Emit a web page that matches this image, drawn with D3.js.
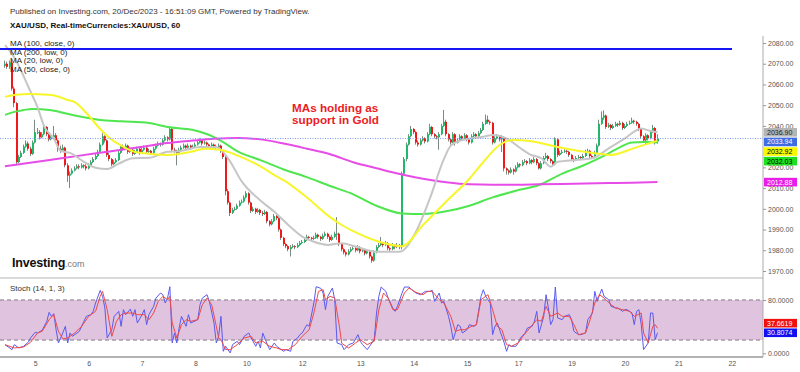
<!DOCTYPE html>
<html><head><meta charset="utf-8">
<script src="https://cdn.jsdelivr.net/npm/d3@7"></script>
<style>body{margin:0;background:#fff;}svg{display:block;font-family:"Liberation Sans",Arial,sans-serif;}</style>
</head><body><svg id="c" width="800" height="372"></svg>
<script>
// ---------------- DATA ----------------
const headerLine = "Published on Investing.com, 20/Dec/2023 - 16:51:09 GMT, Powered by TradingView.";
const titleLine = "XAU/USD, Real-timeCurrencies:XAU/USD, 60";
const legendLabels = ["MA (100, close, 0)", "MA (200, low, 0)", "MA (20, low, 0)", "MA (50, close, 0)"];
const noteLines = ["MAs holding as", "support in Gold"];
const stochTitle = "Stoch (14, 1, 3)";

const firstOpen = 2069;
const closes = [
2070,2068.5,2070.5,2058,2051,2022.5,2025,2027,2030,2031.5,
2029,2026.5,2032,2037,2037,2034.5,2036,2039.5,2036,2033.5,
2034.5,2035.5,2033,2029,2028,2029.5,2021,2016,2017,2018.5,
2019.5,2020.5,2020,2021,2020.5,2019.5,2021,2022.5,2024,2025.5,
2027.5,2031,2035,2033,2026,2024,2021.5,2022.5,2023.5,2027,
2030,2029,2030.5,2027.5,2028.5,2026.5,2027.5,2029,2027,2028.5,
2029.5,2027.5,2028,2027,2029,2030.5,2031.5,2031,2033,2034.5,
2033.5,2038.5,2028.5,2028,2027,2028.5,2029.5,2030.5,2029.5,2030.5,
2029.5,2030,2031,2032,2033,2031.5,2032,2031,2030,2031,
2030,2029.5,2030.5,2028,2025,2008.5,2003,1998,1999.5,2000,
2001.5,2003,2003.5,2005.5,2007.5,2003,1999,2000,1998.5,1999.5,
1998,1997.5,1998.5,1994,1992.5,1994,1996.5,1995.5,1990,1986,
1983,1982,1980.5,1981.5,1982,1981.5,1982.5,1983.5,1984,1985,
1986.5,1986,1985.5,1986,1987.5,1986.5,1985.5,1987,1988,1986.5,
1985,1986.5,1988,1988,1983,1980.5,1979,1978,1979.5,1980.5,
1981,1980,1981.5,1979.5,1980,1978.5,1979.5,1977,1975,1979,
1981.5,1982.5,1983.5,1982.5,1983.5,1981,1980.5,1982.5,1981.5,1982.5,
1981.5,2017,2024,2031,2035,2038.5,2037,2032,2031,2033,
2034,2032.5,2036,2039.5,2036,2035,2034.5,2036,2040,2042,
2036,2033.5,2032,2036,2032,2033,2035,2034,2035.5,2033.5,
2032,2035,2036,2035,2036.5,2038,2041,2043,2042,2041.5,
2032,2034,2035,2033.5,2034.5,2019.5,2018.5,2017.5,2019,2018,
2020,2021.5,2021,2022.5,2023,2022,2023.5,2022.5,2024,2022,
2019.5,2022,2024.5,2025.5,2024,2023,2021.5,2033.5,2026,2027,
2027.5,2028,2027.5,2026,2024,2023.5,2024.5,2025,2024.5,2025.5,
2027.5,2028,2025.5,2025,2027,2030.5,2041,2044,2045,2039.5,
2040.5,2039,2040,2041,2040.5,2041.5,2039,2040,2041,2041.5,
2042.5,2042,2041,2038.5,2035,2033,2035.5,2034,2037,2039,
2032.5,2033.94];
const highs = [
2071.5,2071,2071.5,2072,2059,2051.5,2026,2028,2031,2033,
2032.5,2030,2033,2043,2039,2038,2037,2041,2040,2037,
2035.5,2040,2036.5,2033.5,2030.5,2031,2030,2022,2018,2019.5,
2020.5,2021.5,2021.5,2022,2021.5,2021.5,2022,2023.5,2025,2026.5,
2028.5,2032,2036.5,2035.5,2033.5,2027,2024.5,2023.5,2024.5,2028,
2031,2031,2031.5,2031,2029.5,2029,2028.5,2030,2029.5,2029.5,
2030.5,2030,2029,2028.5,2030,2031.5,2032.5,2032,2034,2035.5,
2035,2039.5,2039,2029.5,2028.5,2029.5,2030.5,2031.5,2031,2031.5,
2031,2031,2032,2033,2034,2033.5,2033,2032.5,2031.5,2032,
2031.5,2031,2031.5,2031,2028.5,2025.5,2009.5,2003.5,2000.5,2001,
2002.5,2004,2004.5,2006.5,2008.5,2008,2003.5,2001,2000.5,2000.5,
2000,1999,1999.5,1999,1994.5,1995,1997.5,1997,1996,1990.5,
1986.5,1983.5,1982.5,1982.5,1983,1982.5,1983.5,1984.5,1985,1986,
1987.5,1987,1986.5,1987,1988.5,1988,1987,1988,1989,1988.5,
1987,1987.5,1989,1996,1988.5,1983.5,1981,1979.5,1980.5,1981.5,
1982,1981.5,1982.5,1982,1981,1980.5,1980.5,1980,1977.5,1980,
1982.5,1983.5,1986.4,1984,1984.5,1984,1981.5,1983.5,1983,1983.5,
1983,2018,2025,2032,2036,2040,2039,2037.5,2033,2034,
2035,2034.5,2037,2041,2040,2036.5,2035.5,2037,2041,2047.7,
2043,2036.5,2034,2037,2036.5,2034,2036,2035.5,2036.5,2036,
2034,2036,2037,2036.5,2037.5,2039,2042,2045.5,2045,2042.5,
2042,2035,2036,2035.5,2035.5,2035,2020,2019,2020,2019.5,
2021,2022.5,2022,2023.5,2024,2023.5,2024.5,2024,2025,2024.5,
2022.5,2023,2025.5,2027,2026,2024.5,2023.5,2034.5,2034,2028,
2028.5,2029,2028.5,2028,2026.5,2024.5,2025.5,2026,2025.5,2026.5,
2028.5,2029,2028.5,2026,2028,2031.5,2043,2047,2047.5,2045.5,
2041.5,2041,2041,2042,2041.5,2042.5,2042,2041,2042,2042.5,
2044,2043,2042.5,2041.5,2039,2035.5,2036.5,2036,2038,2040.5,
2039.5,2036];
const lows = [
2068,2067.5,2067.5,2057,2049,2021,2022,2024.5,2026.5,2029.5,
2028,2025.5,2026,2031.5,2036,2033.5,2034,2035.5,2035,2032.5,
2033,2034,2032,2027.5,2027,2027.5,2020,2013,2010,2016.5,
2018,2019,2019,2019.5,2019.5,2018.5,2019,2020.5,2022,2023.5,
2025,2027,2030.5,2032,2025,2023,2020.5,2021,2022,2023,
2026.5,2028,2028.5,2026.5,2027,2025.5,2026,2027,2026,2026.5,
2028,2026.5,2027,2026,2026.5,2028.5,2030,2030,2030.5,2032.5,
2032.5,2033,2027.5,2027,2021,2026.5,2028,2029,2028.5,2029,
2028.5,2029,2029.5,2030.5,2031.5,2030.5,2031,2030,2029,2029.5,
2029,2028.5,2029,2027,2024,2006.5,2002,1996.5,1997.5,1999,
1999.5,2001,2002.5,2003,2005,2002,1998,1998.5,1997.5,1998,
1997,1996.5,1997,1993,1991.5,1992,1993.5,1994.5,1989,1985,
1982,1981,1979.5,1977,1981,1980.5,1981,1982,1983,1983.5,
1984.5,1985,1984.5,1985,1985.5,1985.5,1984.5,1985,1986.5,1985.5,
1984,1984.5,1986,1985,1982,1979.5,1978,1977,1977.5,1979,
1980,1979,1979.5,1978.5,1979,1977.5,1978,1976,1974,1974.5,
1978.5,1981,1982,1981.5,1982,1980,1979.5,1980,1980.5,1981,
1980.5,1980.5,2016,2023,2030.5,2034.5,2036,2031,2030,2030.5,
2032.5,2031.5,2032,2035.5,2035,2034,2033.5,2028.5,2035.5,2039.5,
2035,2032.5,2031,2031.5,2030.5,2031.5,2032.5,2033,2033.5,2032.5,
2031,2031.5,2034.5,2034,2034.5,2036,2037.5,2040.5,2041,2040.5,
2031,2031.5,2033.5,2032.5,2027.4,2018,2016.5,2016.5,2017,2016.5,
2017.5,2019.5,2020,2020.5,2022,2021,2021.5,2021.5,2022,2021,
2019,2019,2021.5,2024,2023,2022,2021,2021,2025,2025.5,
2026.5,2027,2026.5,2025,2023,2022.5,2023,2024,2023.5,2024,
2025,2027,2024.5,2024,2024.5,2026.5,2030,2040.5,2043,2038.5,
2039,2038,2038.5,2039.5,2039.5,2040,2038,2038.5,2039.5,2040.5,
2041,2041,2040,2037.5,2034,2031.8,2030.8,2033,2033.5,2036.5,
2031,2031.5];

// moving averages: [bar index, value]
const ma100 = [[0,2045.3],[5,2047],[12,2048.2],[20,2047.5],[30,2045],[41,2042.9],[50,2042.2],[62,2041.4],[70,2039.5],[81,2038],[90,2034.6],[95,2031.5],[100,2027.8],[110,2023.5],[120,2019],[130,2015.3],[140,2011],[150,2007],[160,2001.5],[171,1997.8],[180,1997.5],[190,1998.8],[200,2001.5],[210,2005.5],[220,2008.7],[230,2011.5],[240,2017],[250,2021.4],[260,2026.8],[265,2029.8],[270,2032],[275,2032.2],[281,2032.03]];
const ma200 = [[0,2020.5],[10,2022.1],[20,2023.7],[30,2025.3],[40,2026.9],[50,2028.5],[60,2030.1],[70,2031.7],[80,2032.8],[90,2033.8],[100,2034.2],[110,2033.5],[120,2031.5],[130,2029],[140,2026.3],[150,2022.5],[160,2019.6],[170,2016.8],[180,2014.5],[190,2012.8],[200,2011.8],[210,2011.6],[220,2011.6],[230,2011.8],[240,2012],[250,2012.2],[260,2012.4],[270,2012.6],[281,2012.88]];
const ma20 = [[0,2079],[4,2073],[7,2066.5],[10,2059],[14,2049],[17,2039.5],[21,2034],[24,2028],[28,2027],[34,2022.7],[39,2019.8],[44,2019.2],[49,2021.8],[55,2024.4],[62,2024.6],[70,2027.5],[75,2027.8],[84,2029.8],[91,2029.8],[96,2024.5],[102,2013.1],[110,2004],[116,1998.6],[122,1992.2],[128,1986.6],[133,1984.1],[139,1982.6],[145,1983.4],[151,1981.8],[160,1979.3],[170,1979.3],[177,1989],[183,2005.1],[189,2024],[192,2030.5],[197,2033.2],[206,2034.8],[210,2035.6],[216,2034],[222,2029.2],[226,2026.3],[231,2024.4],[235,2020.3],[238,2022.7],[246,2023.6],[253,2024.4],[260,2029.2],[267,2034],[274,2038.8],[278,2037.5],[281,2036.9]];
const ma50 = [[0,2054],[5,2055],[10,2055.4],[20,2054.9],[27,2052.5],[30,2051.5],[36,2045],[41,2038.5],[46,2033.3],[50,2030.5],[55,2027.8],[60,2026.8],[70,2026],[80,2027.5],[86,2029],[93,2028.4],[100,2025.8],[110,2020.5],[116,2016.3],[120,2013.8],[130,2005.5],[140,1996],[145,1992.2],[150,1989.2],[160,1984.5],[171,1982],[180,1992.2],[190,2003.5],[200,2014.5],[206,2022.6],[213,2030.8],[219,2033.2],[226,2032.7],[238,2029.8],[253,2026.9],[261,2026],[271,2029.3],[281,2032.92]];

// stochastic %K (blue) and %D (red): [bar index, value]
const stochK = [[0,13],[3,5.5],[4,13],[6,8],[8,10.5],[10,16.5],[11,23],[13,31.5],[14,30.5],[16,34.5],[18,48],[19,61.5],[20,55.5],[21,59.5],[22,35.5],[23,15.5],[24,23],[26,40.5],[27,15.5],[28,30.5],[29,25.5],[32,33],[34,48],[35,55.5],[37,58],[38,63],[39,75.5],[41,94.5],[42,85.5],[43,68],[44,23],[46,35.5],[47,55.5],[49,63],[50,40.5],[51,65.5],[52,58],[54,66.5],[55,55.5],[56,65.5],[57,45.5],[59,58],[60,65.5],[61,43],[62,58],[64,70.5],[65,83],[67,90.5],[68,88],[69,75.5],[70,83],[71,100],[72,15.5],[73,30.5],[74,15.5],[75,38],[76,55.5],[78,40.5],[79,58],[80,45.5],[83,50.5],[84,73],[85,83],[87,88],[88,78],[90,45.5],[91,15.5],[92,25.5],[93,55.5],[94,3],[95,10.5],[97,0.5],[98,13],[100,18],[101,13],[103,25.5],[105,30.5],[106,23],[108,10.5],[109,18],[110,8],[111,30.5],[113,13],[114,5.5],[116,15.5],[117,10.5],[118,8],[120,3],[121,5.5],[123,3],[124,18],[126,23],[127,28],[128,30.5],[130,43],[131,40.5],[133,75.5],[134,100],[136,97.5],[137,90.5],[138,65.5],[139,85.5],[141,98],[142,80.5],[143,15.5],[145,13],[146,5.5],[148,13],[150,15.5],[152,28],[153,18],[154,13],[156,5.5],[157,10.5],[159,20.5],[160,60.5],[161,85.5],[162,99.5],[164,93],[165,83],[167,68],[168,63],[169,70.5],[171,90.5],[172,99.5],[174,99.5],[176,93],[177,90.5],[179,88],[181,93],[183,93],[184,94.5],[185,78],[187,90.5],[188,75.5],[189,78],[191,55.5],[192,40.5],[193,20.5],[195,43],[196,40.5],[197,30.5],[199,35.5],[200,43],[202,40.5],[203,43],[205,85.5],[206,95.5],[207,85.5],[209,75.5],[210,28],[211,40.5],[212,45.5],[214,25.5],[215,15.5],[216,3],[217,13],[218,10.5],[220,10.5],[221,15.5],[222,23],[224,30.5],[225,38],[227,40.5],[228,48],[229,63],[230,30.5],[232,55.5],[233,88],[234,68],[235,43],[236,50.5],[237,99.5],[238,53],[240,50.5],[241,55.5],[243,58],[244,50.5],[245,33],[247,28],[248,28],[250,30.5],[251,50.5],[253,60.5],[254,93],[255,78],[257,96.5],[258,85.5],[260,80.5],[261,70.5],[263,68],[264,68],[266,63],[267,65.5],[268,65.5],[270,60.5],[271,43],[272,63],[273,65.5],[274,43],[275,5.5],[277,15.5],[278,60.5],[279,60.5],[280,20.5],[281,30.8074]];
const stochD = [[0,13],[4,8],[8,9.5],[11,16.5],[14,30.5],[16,33],[19,50.5],[21,58],[23,33],[25,21.5],[27,23],[30,30.5],[33,40.5],[36,55.5],[39,63],[41,85.5],[42,93],[44,65.5],[46,25.5],[48,48],[50,58],[52,60.5],[55,60.5],[57,58],[60,58],[62,50.5],[64,60.5],[66,78],[68,85.5],[70,80.5],[71,85.5],[72,45.5],[74,23],[76,43],[78,50.5],[80,48],[83,50.5],[85,73],[87,83],[89,73],[91,40.5],[92,23],[93,20.5],[95,5.5],[97,5.5],[100,13],[103,23],[106,25.5],[108,15.5],[111,18],[114,10.5],[117,8],[119,5.5],[122,5.5],[125,13],[128,25.5],[131,35.5],[133,60.5],[135,93],[137,95.5],[138,80.5],[140,85.5],[142,83],[144,40.5],[145,15],[148,8],[151,15.5],[153,20.5],[156,13],[159,18],[161,65.5],[163,90.5],[165,83],[167,65.5],[169,65.5],[172,90.5],[174,98],[177,91.5],[180,88],[182,93],[184,93],[187,80.5],[189,75.5],[192,55.5],[194,33],[196,35.5],[198,35.5],[201,40.5],[203,43],[205,80.5],[208,88],[210,65.5],[212,40.5],[214,35.5],[216,13],[218,10.5],[221,15.5],[223,25.5],[226,38],[229,50.5],[231,48],[233,70.5],[235,55.5],[238,60.5],[240,55.5],[243,55.5],[245,43],[247,28],[250,30.5],[252,50.5],[254,75.5],[256,88],[258,83],[261,73],[263,68],[266,65.5],[269,63],[271,55.5],[274,60.5],[275,30.5],[277,15.5],[279,40.5],[280,43],[281,37.6619]];

const hLinePrice = 2077.1;          // blue horizontal line
const lastPrice = 2033.94;          // dotted current-price line
const priceTicks = [1970,1980,1990,2000,2010,2020,2030,2040,2050,2060,2070,2080];
const stochTicks = [0,80];
const stochLevels = [80,20];
const dayLabels = ["5","6","7","8","10","12","13","14","15","17","19","20","21","22"];
const dayBars = [13,36,59,82,104,128,153,176,199,221,244,267,290,313];
const priceTags = [2036.90, 2033.94, 2032.92, 2032.03, 2012.88];
const stochTags = [30.8074, 37.6619];

// ---------------- DRAW ----------------
const svg = d3.select("#c");
const FONT = '"Liberation Sans", Arial, sans-serif';
const axisX = 763, paneBottom = 278, chartBottom = 357;
const n = Math.min(closes.length, highs.length, lows.length);
const x = d3.scaleLinear().domain([0, 281]).range([5, 657.5]);
const y = d3.scaleLinear().domain([1970, 2080]).range([271, 43]);
const ys = d3.scaleLinear().domain([0, 100]).range([353.3, 286.7]);

// tag layout (price tags stacked downwards, stoch tags upwards)
const tagCenters = [];
{ let prev = -1e9; priceTags.forEach(v => { const cy = Math.max(y(v), prev + 9.6); prev = cy; tagCenters.push(cy); }); }
const sTagCenters = [];
{ let prev = 1e9; stochTags.forEach(v => { const cy = Math.min(ys(v), prev - 9.6); prev = cy; sTagCenters.push(cy); }); }

// header
svg.append("text").attr("x",10).attr("y",14).attr("font-size",8).attr("fill","#333").text(headerLine);
svg.append("text").attr("x",10).attr("y",27.5).attr("font-size",8).attr("font-weight","bold").attr("fill","#111").text(titleLine);

// stoch band
svg.append("rect").attr("x",0).attr("width",axisX).attr("y",ys(80)).attr("height",ys(20)-ys(80)).attr("fill","#dfc3df");
svg.selectAll("line.lvl").data(stochLevels).join("line").attr("class","lvl")
  .attr("x1",0).attr("x2",axisX).attr("y1",d=>ys(d)).attr("y2",d=>ys(d))
  .attr("stroke","#a89aa8").attr("stroke-width",1.3).attr("stroke-dasharray","4,3");

// frame lines
svg.append("line").attr("x1",0).attr("x2",axisX).attr("y1",paneBottom).attr("y2",paneBottom).attr("stroke","#b4b4b4").attr("stroke-width",1);
svg.append("line").attr("x1",0).attr("x2",axisX).attr("y1",chartBottom).attr("y2",chartBottom).attr("stroke","#999").attr("stroke-width",1.5);
svg.append("line").attr("x1",axisX).attr("x2",axisX).attr("y1",36).attr("y2",chartBottom).attr("stroke","#aaa").attr("stroke-width",1);

// price axis (labels fully hidden behind the value tags are left out)
const ay = svg.append("g").attr("transform",`translate(${axisX},0)`)
  .call(d3.axisRight(y).tickValues(priceTicks).tickFormat(d3.format(".2f")).tickSize(3).tickPadding(2));
ay.select(".domain").remove();
ay.attr("font-size",7).attr("font-family",FONT);
ay.selectAll("text").attr("fill","#555");
ay.selectAll("line").attr("stroke","#999");
ay.selectAll(".tick").filter(d => tagCenters.some(c => Math.abs(c - y(d)) < 5.5)).remove();

// stoch axis
const as = svg.append("g").attr("transform",`translate(${axisX},0)`)
  .call(d3.axisRight(ys).tickValues(stochTicks).tickFormat(d3.format(".4f")).tickSize(3).tickPadding(2));
as.select(".domain").remove();
as.attr("font-size",7).attr("font-family",FONT);
as.selectAll("text").attr("fill","#555");
as.selectAll("line").attr("stroke","#999");

// time axis
const ax = svg.append("g").attr("transform",`translate(0,${chartBottom})`)
  .call(d3.axisBottom(x).tickValues(dayBars).tickFormat((d,i)=>dayLabels[i]).tickSize(0).tickPadding(4));
ax.select(".domain").remove();
ax.attr("font-size",7).attr("font-family",FONT);
ax.selectAll("text").attr("fill","#555");

// candles
const bars = d3.range(n).map(i => ({i, o: i ? closes[i-1] : firstOpen, h: highs[i], l: lows[i], c: closes[i]}));
const cg = svg.append("g");
cg.selectAll("line.w").data(bars).join("line").attr("class","w")
  .attr("x1",d=>Math.round(x(d.i))-0.5).attr("x2",d=>Math.round(x(d.i))-0.5)
  .attr("y1",d=>y(d.h)).attr("y2",d=>y(d.l)).attr("stroke","#7d8a84").attr("stroke-width",1);
cg.selectAll("rect.b").data(bars).join("rect").attr("class","b")
  .attr("x",d=>Math.round(x(d.i))-1).attr("width",2)
  .attr("y",d=>y(Math.max(d.o,d.c))).attr("height",d=>Math.max(1, Math.abs(y(d.o)-y(d.c))))
  .attr("fill",d=>d.c>=d.o ? "#22b86a" : "#f01818");

// moving averages
const maLine = d3.line().x(d=>x(d[0])).y(d=>y(d[1])).curve(d3.curveMonotoneX);
[[ma100,"#4fe64f"],[ma200,"#e84ce8"],[ma20,"#c6c6c6"],[ma50,"#f6f62a"]].forEach(([data,col])=>{
  svg.append("path").attr("d",maLine(data)).attr("fill","none").attr("stroke",col).attr("stroke-width",2);
});

// horizontal lines
svg.append("line").attr("x1",0).attr("x2",732).attr("y1",y(hLinePrice)).attr("y2",y(hLinePrice)).attr("stroke","#1616f5").attr("stroke-width",2);
svg.append("line").attr("x1",0).attr("x2",axisX).attr("y1",Math.round(y(lastPrice))+0.5).attr("y2",Math.round(y(lastPrice))+0.5)
  .attr("stroke","#7f9cf0").attr("stroke-width",1).attr("stroke-dasharray","1,1.5");

// stochastic lines
const stLine = d3.line().x(d=>x(d[0])).y(d=>ys(d[1]));
svg.append("path").attr("d",stLine(stochK)).attr("fill","none").attr("stroke","#5a5af0").attr("stroke-width",1);
svg.append("path").attr("d",stLine(stochD)).attr("fill","none").attr("stroke","#f04848").attr("stroke-width",1);

// legend
svg.selectAll("text.lg").data(legendLabels).join("text").attr("class","lg")
  .attr("x",10).attr("y",(d,i)=>46+i*8.5).attr("font-size",8).attr("fill","#222").text(d=>d);

// annotation
svg.selectAll("text.note").data(noteLines).join("text").attr("class","note")
  .attr("x",292).attr("y",(d,i)=>111.7+i*12.6).attr("font-size",11.7).attr("font-weight","bold").attr("fill","#ec1c24").text(d=>d);

// logo
const logo = svg.append("text").attr("x",12).attr("y",267).attr("font-size",12.5).attr("font-weight","bold").attr("fill","#111").attr("letter-spacing",-0.2);
logo.append("tspan").text("Investing");
logo.append("tspan").attr("font-size",9).attr("font-weight","normal").attr("fill","#777").attr("letter-spacing",0).text(".com");

// stoch title
svg.append("text").attr("x",10).attr("y",291).attr("font-size",8).attr("fill","#333").text(stochTitle);

// price tags
const tagStyle = [["#b4b4b4","#222"],["#3e6ce2","#fff"],["#f8f800","#000"],["#1fe01f","#000"],["#e81ee8","#fff"]];
priceTags.forEach((v,k)=>{
  const cy = tagCenters[k];
  svg.append("rect").attr("x",764).attr("y",cy-4.3).attr("width",33).attr("height",8.6).attr("fill",tagStyle[k][0]);
  svg.append("text").attr("x",767).attr("y",cy+2.5).attr("font-size",7).attr("fill",tagStyle[k][1]).text(d3.format(".2f")(v));
});
// stoch tags
const sTagStyle = [["#1010f0","#fff"],["#f01010","#fff"]];
stochTags.forEach((v,k)=>{
  const cy = sTagCenters[k];
  svg.append("rect").attr("x",764).attr("y",cy-4.3).attr("width",33).attr("height",8.6).attr("fill",sTagStyle[k][0]);
  svg.append("text").attr("x",767).attr("y",cy+2.5).attr("font-size",7).attr("fill",sTagStyle[k][1]).text(d3.format(".4f")(v));
});
</script>
</body></html>
